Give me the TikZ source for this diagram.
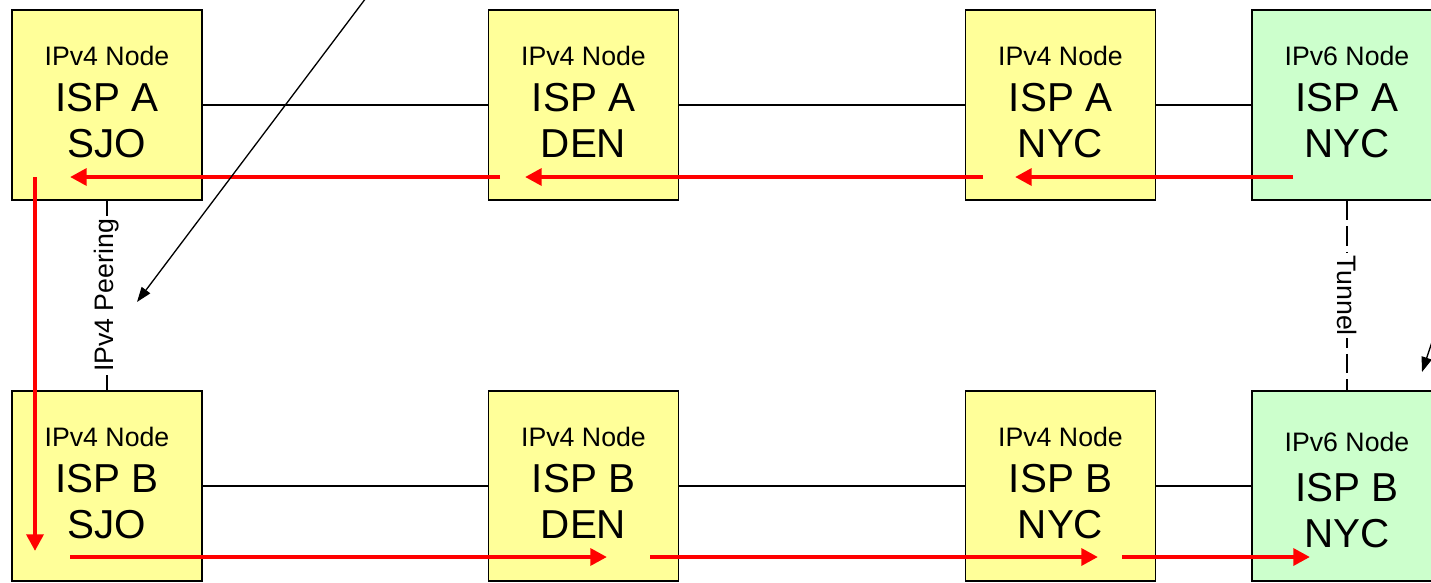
\documentclass[tikz,border=0pt]{standalone}
\usepackage{fontspec}
\setmainfont{Liberation Sans}
\usetikzlibrary{arrows.meta,positioning}
\definecolor{NodeYellow}{HTML}{FFFF99}
\definecolor{NodeGreen}{HTML}{CCFFCC}
\definecolor{FlowRed}{HTML}{FF0000}
\newcommand{\kind}[1]{{\fontsize{15.2}{26.3}\selectfont #1}}
% three-line router label, lifted a little inside its box
\newcommand{\router}[3]{\kind{#1}\\#2\\#3\rule[-3.4pt]{0pt}{3.4pt}}

\begin{document}
\begin{tikzpicture}[x=0.02cm,y=-0.02cm,
    box/.style={draw=black,line width=1.1pt,minimum width=3.8cm,minimum height=3.8cm,
      align=center,inner sep=0pt,font=\fontsize{23}{26.3}\selectfont},
    v4box/.style={box,fill=NodeYellow},
    v6box/.style={box,fill=NodeGreen},
    link/.style={line width=1pt},
    tag/.style={fill=white,inner sep=1.5pt,font=\fontsize{15.2}{17}\selectfont},
    flow/.style={-{Triangle[length=9.5pt,width=9.5pt]},FlowRed,line width=2.8pt},
    note/.style={-{Triangle[length=8.5pt,width=6pt]},line width=0.75pt}]
  \useasboundingbox (0,0) rectangle (1431,582);
  \clip (0,0) rectangle (1431,582);

  % ISP A routers
  \node[v4box] (aSJO) at (107,105) {\router{IPv4 Node}{ISP A}{SJO}};
  \node[v4box] (aDEN) at (583.5,105) {\router{IPv4 Node}{ISP A}{DEN}};
  \node[v4box] (aNYC) at (1060.5,105) {\router{IPv4 Node}{ISP A}{NYC}};
  \node[v6box] (aNYCsix) at (1347,105) {\router{IPv6 Node}{ISP A}{NYC}};

  % ISP B routers
  \node[v4box] (bSJO) at (107,486) {\router{IPv4 Node}{ISP B}{SJO}};
  \node[v4box] (bDEN) at (583.5,486) {\router{IPv4 Node}{ISP B}{DEN}};
  \node[v4box] (bNYC) at (1060.5,486) {\router{IPv4 Node}{ISP B}{NYC}};
  \node[v6box] (bNYCsix) at (1347,486) {\rule{0pt}{15.5pt}\kind{IPv6 Node}\\[2.3pt]ISP B\\NYC};

  % links
  \draw[link] (aSJO) -- (aDEN) -- (aNYC) -- (aNYCsix);
  \draw[link] (bSJO) -- (bDEN) -- (bNYC) -- (bNYCsix);
  \draw[link] (aSJO) -- node[tag,rotate=90] {IPv4 Peering} (bSJO);
  \draw[link,dash pattern=on 11pt off 3.5pt] (aNYCsix) -- node[tag,rotate=-90] {Tunnel} (bNYCsix);

  % packet path
  \coordinate (r1) at (1293,177);
  \coordinate (r2) at (1015,177);
  \coordinate (r3) at (983,177);
  \coordinate (r4) at (525,177);
  \coordinate (r5) at (500,177);
  \coordinate (r6) at (70,177);
  \coordinate (r7) at (35,177);
  \coordinate (r8) at (35,551);
  \coordinate (r9) at (70,557);
  \coordinate (r10) at (607,557);
  \coordinate (r11) at (650,557);
  \coordinate (r12) at (1098,557);
  \coordinate (r13) at (1122,557);
  \coordinate (r14) at (1310,557);
  \draw[flow] (r1) -- (r2);
  \draw[flow] (r3) -- (r4);
  \draw[flow] (r5) -- (r6);
  \draw[flow] (r7) -- (r8);
  \draw[flow] (r9) -- (r10);
  \draw[flow] (r11) -- (r12);
  \draw[flow] (r13) -- (r14);

  % callout pointers
  \coordinate (noteA) at (433,-91);
  \coordinate (tipA) at (137,302);
  \coordinate (noteB) at (1462,252);
  \coordinate (tipB) at (1422,372);
  \draw[note] (noteA) -- (tipA);
  \draw[note] (noteB) -- (tipB);
\end{tikzpicture}
\end{document}
